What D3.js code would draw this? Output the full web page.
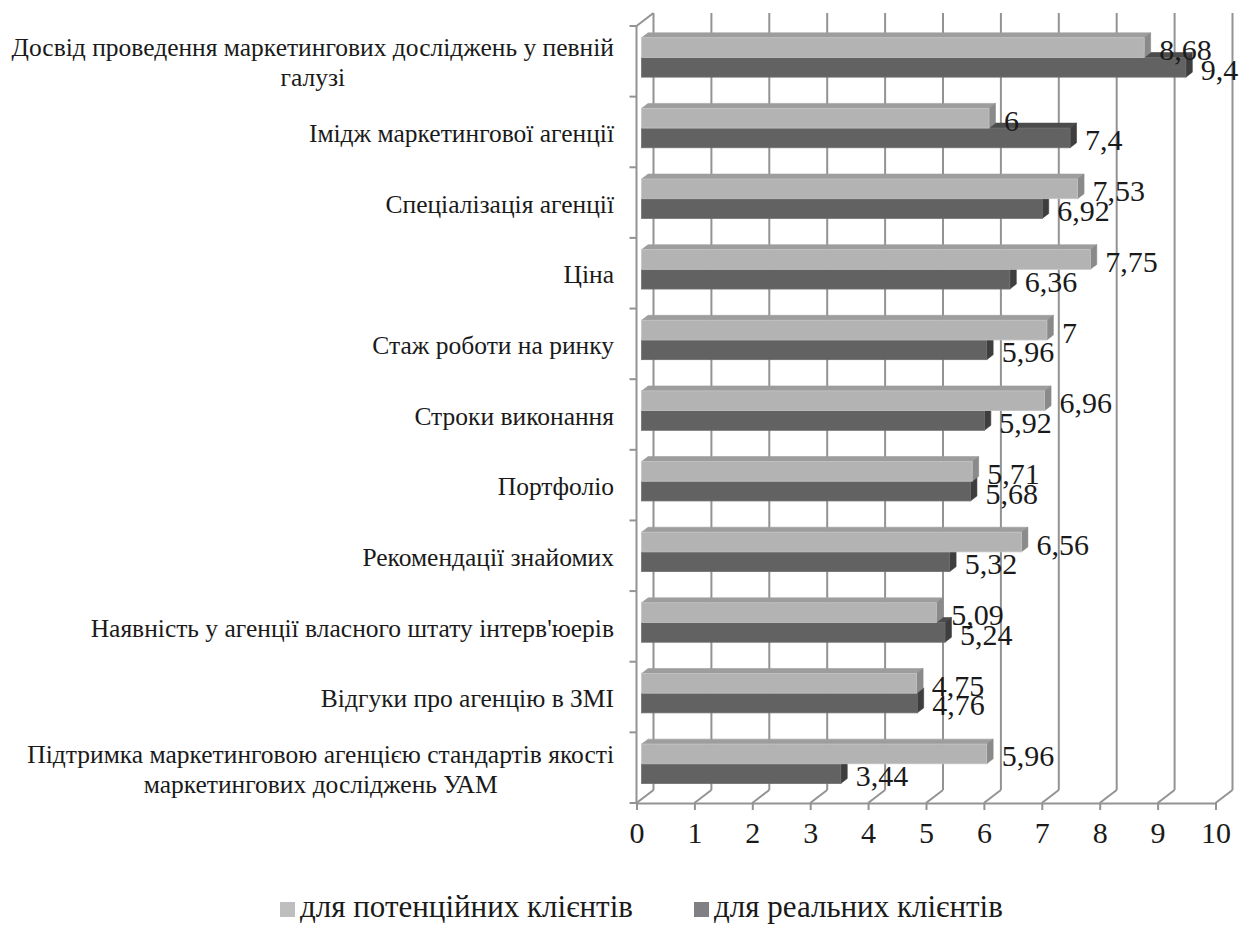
<!DOCTYPE html>
<html>
<head>
<meta charset="utf-8">
<script src="https://cdn.jsdelivr.net/npm/d3@7"></script>
<style>
  html, body { margin: 0; padding: 0; background: #ffffff; }
  svg { display: block; }
  text { font-family: "Liberation Serif", "Times New Roman", serif; fill: #1a1a1a; }
</style>
</head>
<body>
<svg id="chart" width="1246" height="934"></svg>
<script>
// ---- data ----
const categories = [
  ["Досвід проведення маркетингових досліджень у певній", "галузі"],
  ["Імідж маркетингової агенції"],
  ["Спеціалізація агенції"],
  ["Ціна"],
  ["Стаж роботи на ринку"],
  ["Строки виконання"],
  ["Портфоліо"],
  ["Рекомендації знайомих"],
  ["Наявність у агенції власного штату інтерв'юерів"],
  ["Відгуки про агенцію в ЗМІ"],
  ["Підтримка маркетинговою агенцією стандартів якості", "маркетингових досліджень УАМ"]
];
const potentialValues = [8.68, 6, 7.53, 7.75, 7, 6.96, 5.71, 6.56, 5.09, 4.75, 5.96];
const realValues      = [9.4, 7.4, 6.92, 6.36, 5.96, 5.92, 5.68, 5.32, 5.24, 4.76, 3.44];
const seriesNames = ["для потенційних клієнтів", "для реальних клієнтів"];
const xTicks = [0, 1, 2, 3, 4, 5, 6, 7, 8, 9, 10];

// ---- geometry ----
const svg = d3.select("#chart");
const DX = 17, DY = -13;          // full depth offset (front -> back wall)
const z0 = 0.30, z1 = 0.68;       // bar depth range
const frontTop = 26, frontBottom = 803;
const x = d3.scaleLinear().domain([0, 10]).range([636.5, 1215.5]);
const catKeys = categories.map((c, i) => i);
const y = d3.scaleBand().domain(catKeys).range([frontTop, frontBottom])
  .paddingInner(0.442).paddingOuter(0.221);
const ys = d3.scaleBand().domain([0, 1]).range([0, y.bandwidth()]);

const gridColor = "#939393";
const fmt = v => String(v).replace(".", ",");

// back wall gridlines
const g = svg.append("g");
g.selectAll("line.grid").data(xTicks).join("line")
  .attr("x1", d => x(d) + DX).attr("x2", d => x(d) + DX)
  .attr("y1", frontTop + DY).attr("y2", frontBottom + DY)
  .attr("stroke", gridColor).attr("stroke-width", 2);
// floor diagonals
g.selectAll("line.floor").data(xTicks).join("line")
  .attr("x1", d => x(d)).attr("x2", d => x(d) + DX)
  .attr("y1", frontBottom).attr("y2", frontBottom + DY)
  .attr("stroke", gridColor).attr("stroke-width", 2);
// left wall: top diagonal + front vertical
g.append("line").attr("x1", x(0)).attr("y1", frontTop).attr("x2", x(0) + DX).attr("y2", frontTop + DY)
  .attr("stroke", gridColor).attr("stroke-width", 2);
g.append("line").attr("x1", x(0)).attr("y1", frontTop).attr("x2", x(0)).attr("y2", frontBottom)
  .attr("stroke", gridColor).attr("stroke-width", 2);
// left category boundary ticks
const bounds = d3.range(categories.length + 1).map(k => frontTop + k * y.step());
g.selectAll("line.ytick").data(bounds).join("line")
  .attr("x1", x(0) - 7).attr("x2", x(0))
  .attr("y1", d => d).attr("y2", d => d)
  .attr("stroke", gridColor).attr("stroke-width", 2);

// x axis (front floor edge)
const xAxis = d3.axisBottom(x).tickValues(xTicks).tickSize(7).tickPadding(12).tickFormat(d => d);
const ax = svg.append("g").attr("transform", `translate(0,${frontBottom})`).call(xAxis);
ax.select(".domain").attr("stroke", gridColor).attr("stroke-width", 2);
ax.selectAll(".tick line").attr("stroke", gridColor).attr("stroke-width", 2);
ax.selectAll(".tick text").attr("font-size", 30).attr("fill", "#1a1a1a")
  .attr("font-family", "Liberation Serif, Times New Roman, serif");

// bars
const palette = [
  { front: "#b3b3b3", top: "#9d9d9d", side: "#8a8a8a", edge: "#c4c4c4" },
  { front: "#626262", top: "#4c4c4c", side: "#3e3e3e", edge: "#6e6e6e" }
];
const ddx = (z1 - z0) * DX, ddy = (z1 - z0) * DY;
const barsG = svg.append("g");
const barData = [];
catKeys.forEach(i => {
  [1, 0].forEach(s => {
    const v = s === 0 ? potentialValues[i] : realValues[i];
    barData.push({ i, s, v });
  });
});
barData.forEach(d => {
  const xa = x(0) + z0 * DX, xb = x(d.v) + z0 * DX;
  const yt = y(d.i) + ys(d.s) + z0 * DY, yb = yt + ys.bandwidth();
  const c = palette[d.s];
  const bg = barsG.append("g");
  bg.append("polygon").attr("points", [[xa, yt], [xb, yt], [xb + ddx, yt + ddy], [xa + ddx, yt + ddy]].join(" "))
    .attr("fill", c.top).attr("stroke", c.top).attr("stroke-width", 0.6);
  bg.append("polygon").attr("points", [[xb, yt], [xb + ddx, yt + ddy], [xb + ddx, yb + ddy], [xb, yb]].join(" "))
    .attr("fill", c.side).attr("stroke", c.side).attr("stroke-width", 0.6);
  bg.append("rect").attr("x", xa).attr("y", yt).attr("width", xb - xa).attr("height", yb - yt)
    .attr("fill", c.front).attr("stroke", c.edge).attr("stroke-width", 0.8);
});

// data labels
const labG = svg.append("g");
barData.forEach(d => {
  const xb = x(d.v) + z0 * DX;
  const yc = y(d.i) + ys(d.s) + z0 * DY + ys.bandwidth() / 2;
  labG.append("text").attr("x", xb + 15).attr("y", yc + 12.5)
    .attr("font-size", 30).text(fmt(d.v));
});

// category labels
const catG = svg.append("g");
const labelRight = 614, lineH = 30, labelFont = 25.5;
catKeys.forEach(i => {
  const lines = categories[i];
  const cy = y(i) + y.bandwidth() / 2 + 2;
  const tg = catG.append("g");
  const texts = lines.map((ln, k) => tg.append("text")
    .attr("font-size", labelFont)
    .attr("text-anchor", "middle")
    .attr("y", cy + (k - (lines.length - 1) / 2) * lineH + labelFont * 0.32)
    .text(ln));
  const maxW = d3.max(texts, t => t.node().getComputedTextLength());
  texts.forEach(t => t.attr("x", labelRight - maxW / 2));
});

// legend
const legG = svg.append("g");
const legItems = [
  { name: seriesNames[0], color: "#bebebe", x: 280 },
  { name: seriesNames[1], color: "#7f7f84", x: 694 }
];
legItems.forEach(it => {
  legG.append("rect").attr("x", it.x).attr("y", 902).attr("width", 15).attr("height", 15).attr("fill", it.color);
  legG.append("text").attr("x", it.x + 20).attr("y", 917).attr("font-size", 31).text(it.name);
});
</script>
</body>
</html>
